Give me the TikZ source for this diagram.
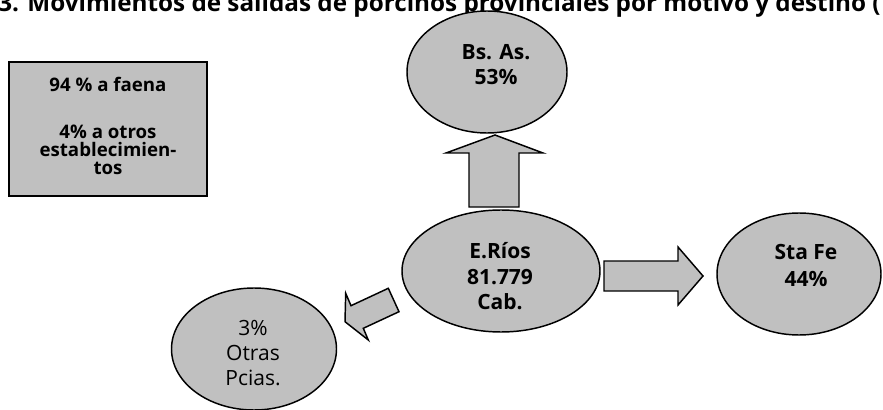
\documentclass[tikz,border=0pt]{standalone}
\usepackage{fontspec}
\setmainfont{Open Sans}
\usetikzlibrary{shapes.geometric}
\begin{document}
\begin{tikzpicture}[x=0.75pt,y=-0.75pt,
  shapebox/.style={draw=black,line width=1.1pt,fill=shapegray},
  ell/.style={shapebox,ellipse,inner sep=0pt},
  big/.style={font=\fontsize{15.75pt}{18.75pt}\selectfont\bfseries,anchor=base,inner sep=0pt},
  bigreg/.style={font=\fontsize{15.75pt}{18.75pt}\selectfont,anchor=base,inner sep=0pt},
  small/.style={font=\fontsize{14pt}{14pt}\selectfont\bfseries,anchor=base,inner sep=0pt},
  titlefont/.style={font=\fontsize{18.2pt}{20pt}\selectfont\bfseries,anchor=base west,inner sep=0pt}]
\definecolor{shapegray}{HTML}{C0C0C0}
\useasboundingbox (0,0) rectangle (883,410);
\fill[white] (0,0) rectangle (883,410);
% title
\node[titlefont] (title) at (-2,12) {3. Movimientos de salidas de porcinos provinciales por motivo y destino (};
% box
\node[shapebox,rectangle,minimum width=148.5pt,minimum height=100.5pt,inner sep=0pt] (box) at (108,129) {};
\node[small] (b1) at (108,92) {94 \% a faena};
\node[small] (b2) at (108,138) {4\% a otros};
\node[small] (b3) at (108,156.5) {establecimien-};
\node[small] (b4) at (108,175) {tos};
% ellipses
\node[ell,minimum width=120pt,minimum height=91.5pt] (bsas) at (487,72) {};
\node[ell,minimum width=148.5pt,minimum height=91.5pt] (erios) at (501,271) {};
\node[ell,minimum width=123pt,minimum height=91.5pt] (stafe) at (799,274) {};
\node[ell,minimum width=123.75pt,minimum height=91.5pt] (otras) at (254,349) {};
% texts
\node[big] (t1) at (496,60) {Bs. As.};
\node[big] (t2) at (496,85) {53\%};
\node[big] (t3) at (500,258) {E.Ríos};
\node[big] (t4) at (500,284) {81.779};
\node[big] (t5) at (500,309) {Cab.};
\node[big] (t6) at (806,259) {Sta Fe};
\node[big] (t7) at (806,286) {44\%};
\node[bigreg] (t8) at (253,335) {3\%};
\node[bigreg] (t9) at (253,360) {Otras};
\node[bigreg] (t10) at (253,385) {Pcias.};
% block arrows
\draw[shapebox,line join=miter] (469,207) -- (469,153) -- (446,153) -- (495,135) -- (543,153) -- (519,153) -- (519,207) -- cycle;
\draw[shapebox,line join=miter] (604,261) -- (678,261) -- (678,247) -- (703,276) -- (678,305) -- (678,291) -- (604,291) -- cycle;
\draw[shapebox,line join=miter] (388.3,288.3) -- (351,305.7) -- (345.7,293.3) -- (345,321.7) -- (368.3,340) -- (363.3,328.3) -- (399,311.7) -- cycle;
\end{tikzpicture}
\end{document}
